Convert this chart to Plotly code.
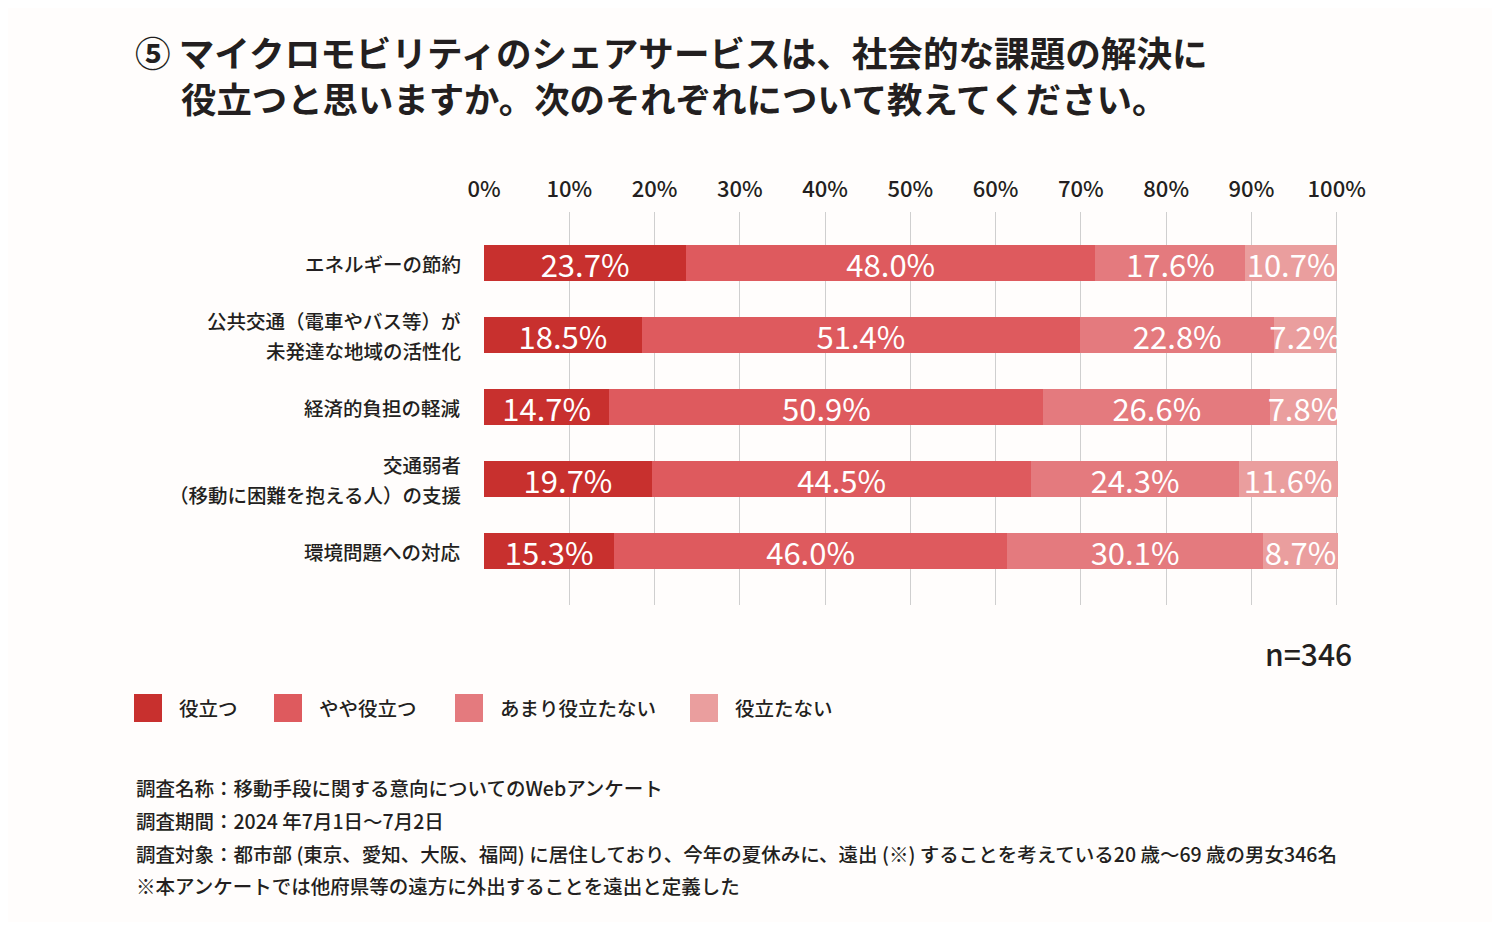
import plotly.graph_objects as go

categories = [
    "エネルギーの節約",
    "公共交通（電車やバス等）が<br>未発達な地域の活性化",
    "経済的負担の軽減",
    "交通弱者<br>（移動に困難を抱える人）の支援",
    "環境問題への対応",
]
series_names = ["役立つ", "やや役立つ", "あまり役立たない", "役立たない"]
v_useful = [23.7, 18.5, 14.7, 19.7, 15.3]
v_somewhat = [48.0, 51.4, 50.9, 44.5, 46.0]
v_notmuch = [17.6, 22.8, 26.6, 24.3, 30.1]
v_not = [10.7, 7.2, 7.8, 11.6, 8.7]
series_values = [v_useful, v_somewhat, v_notmuch, v_not]
colors = ["#C8302E", "#DE5A5E", "#E47A7E", "#EA9E9E"]
x_ticks = [0, 10, 20, 30, 40, 50, 60, 70, 80, 90, 100]

FONT = "Noto Sans CJK JP"
TXT = "#231F20"

# page body has an 8px margin; compensate so content lands at reference pixels
OFF = 8
W, H = 1500 - 2 * OFF, 930 - 2 * OFF
L, R, T, B = 484 - OFF, 1338 - OFF, 212 - OFF, 605 - OFF


def px_x(p):
    return (p - OFF - L) / (R - L)


def px_y(p):
    return (B - (p - OFF)) / (B - T)


fig = go.Figure()
for name, vals, col in zip(series_names, series_values, colors):
    fig.add_trace(go.Bar(
        y=list(range(len(categories))), x=vals, name=name, orientation="h",
        marker=dict(color=col, line=dict(width=0)),
        width=0.5,
        text=[f"{v:.1f}%" for v in vals],
        textposition="inside", insidetextanchor="middle",
        textangle=0,
        constraintext="none", cliponaxis=False,
        textfont=dict(family=FONT, size=31, color="white"),
        showlegend=False,
    ))

fig.update_layout(
    width=W, height=H,
    barmode="stack",
    paper_bgcolor="#FFFDFC",
    plot_bgcolor="#FFFDFC",
    margin=dict(l=L, r=W - R, t=T, b=H - B, pad=0),
    font=dict(family=FONT, color=TXT),
    xaxis=dict(
        side="top", range=[0, 100.15], tickvals=x_ticks,
        ticktext=[f"{t}%" for t in x_ticks],
        showgrid=True, gridcolor="#CFCFCF", gridwidth=1,
        zeroline=False, showline=False, ticks="",
        tickfont=dict(family=FONT, size=22, color=TXT, weight=500),
        ticklabelstandoff=10,
    ),
    yaxis=dict(
        range=[4.75, -0.71],
        showgrid=False, zeroline=False, ticks="", showticklabels=False,
    ),
)

# Category labels (right aligned, custom line spacing)
for i, cat in enumerate(categories):
    lines = cat.split("<br>")
    n = len(lines)
    for j, line in enumerate(lines):
        shift = (n - 1) * 15 - j * 30
        fig.add_annotation(text=line, xref="paper", yref="y",
                           x=px_x(463), y=i, yshift=shift,
                           xanchor="right", yanchor="middle", showarrow=False,
                           font=dict(family=FONT, size=19.5, color=TXT, weight=500))

# Title
fig.add_annotation(text="⑤ マイクロモビリティのシェアサービスは、社会的な課題の解決に",
                   xref="paper", yref="paper", x=px_x(133), y=px_y(52),
                   xanchor="left", yanchor="middle", showarrow=False,
                   font=dict(family=FONT, size=35.6, color=TXT, weight=700))
fig.add_annotation(text="役立つと思いますか。次のそれぞれについて教えてください。",
                   xref="paper", yref="paper", x=px_x(179), y=px_y(97),
                   xanchor="left", yanchor="middle", showarrow=False,
                   font=dict(family=FONT, size=35.4, color=TXT, weight=700))

# n
fig.add_annotation(text="n=346", xref="paper", yref="paper",
                   x=px_x(1354), y=px_y(653), xanchor="right", yanchor="middle",
                   showarrow=False, font=dict(family=FONT, size=30, color=TXT, weight=500))

# Legend (manual)
leg_x = [134, 274, 455, 690]
for name, col, lx in zip(series_names, colors, leg_x):
    fig.add_shape(type="rect", xref="paper", yref="paper",
                  x0=px_x(lx), x1=px_x(lx + 28), y0=px_y(722), y1=px_y(694),
                  fillcolor=col, line=dict(width=0))
    fig.add_annotation(text=name, xref="paper", yref="paper",
                       x=px_x(lx + 43), y=px_y(707), xanchor="left", yanchor="middle",
                       showarrow=False, font=dict(family=FONT, size=19.5, color=TXT, weight=500))

notes = [
    "調査名称：移動手段に関する意向についてのWebアンケート",
    "調査期間：2024 年7月1日～7月2日",
    "調査対象：都市部 (東京、愛知、大阪、福岡) に居住しており、今年の夏休みに、遠出 (※) することを考えている20 歳～69 歳の男女346名",
    "※本アンケートでは他府県等の遠方に外出することを遠出と定義した",
]
note_y = [787, 820, 853, 885]
for t, ny in zip(notes, note_y):
    fig.add_annotation(text=t, xref="paper", yref="paper",
                       x=px_x(134), y=px_y(ny), xanchor="left", yanchor="middle",
                       showarrow=False, font=dict(family=FONT, size=19.5, color=TXT, weight=500))

fig.write_html("out.html")
